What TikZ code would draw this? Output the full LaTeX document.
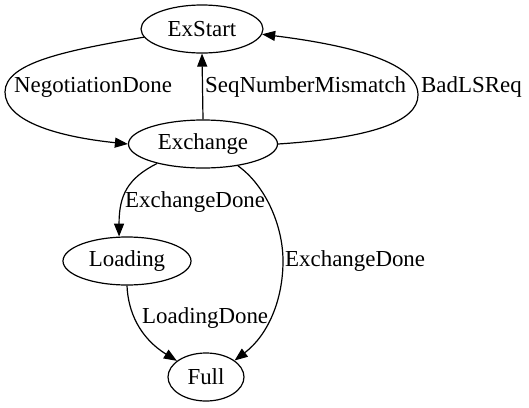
\documentclass[tikz,border=0pt]{standalone}
\usepackage{fontspec}
\setmainfont{Liberation Serif}
\usetikzlibrary{shapes.geometric,arrows.meta}
\begin{document}
\begin{tikzpicture}[x=1pt, y=-1pt,
  every node/.style={font=\fontsize{22.9}{27}\selectfont},
  state/.style={ellipse, draw, line width=1.2pt, inner sep=0pt, minimum height=48pt},
  trans/.style={line width=1.2pt, -{Triangle[length=13pt, width=10pt]}},
  lbl/.style={inner sep=0pt}
]
\useasboundingbox (0,0) rectangle (529,407);
% states
\node[state, minimum width=122pt] (exstart)  at (202,29)  {ExStart};
\node[state, minimum width=149pt] (exchange) at (203,144) {Exchange};
\node[state, minimum width=128pt] (loading)  at (127,261) {Loading};
\node[state, minimum width=76pt]  (full)     at (206,377) {Full};
% transitions
\draw[trans] (exstart.188) .. controls (70,50) and (5,62) .. (5,92)
  .. controls (5,122) and (60,137) .. (exchange.west);
\draw[trans] (exchange.north) -- (exstart.south);
\draw[trans] (exchange.east) .. controls (370,138) and (418,122) .. (418,95)
  .. controls (418,60) and (340,44) .. (exstart.355);
\draw[trans] (exchange.203) .. controls (128,178) and (119,195) .. (loading.108);
\draw[trans] (exchange.328) .. controls (265,185) and (283,225) .. (283,261)
  .. controls (283,300) and (268,335) .. (full.30);
\draw[trans] (loading.south) .. controls (128,312) and (140,338) .. (full.151);
% labels
\node[lbl, anchor=west] (lneg)  at (14,87)   {NegotiationDone};
\node[lbl, anchor=west] (lseq)  at (205,87)  {SeqNumberMismatch};
\node[lbl, anchor=west] (lbad)  at (421,87)  {BadLSReq};
\node[lbl, anchor=west] (lexl)  at (125,202) {ExchangeDone};
\node[lbl, anchor=west] (lexf)  at (285,261) {ExchangeDone};
\node[lbl, anchor=west] (lload) at (142,318) {LoadingDone};
\end{tikzpicture}
\end{document}
